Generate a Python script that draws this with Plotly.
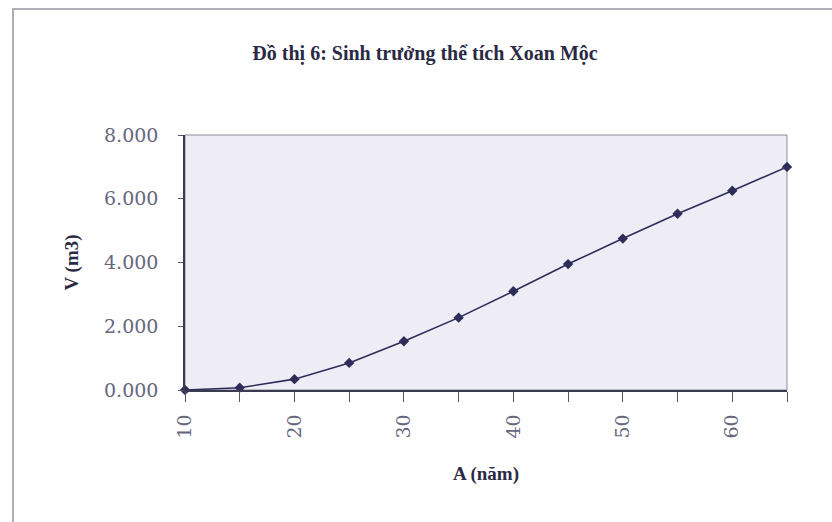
import plotly.graph_objects as go

ages = [10, 15, 20, 25, 30, 35, 40, 45, 50, 55, 60, 65]
volume = [0.00, 0.07, 0.34, 0.85, 1.53, 2.27, 3.10, 3.95, 4.75, 5.53, 6.25, 7.00]
x_tick_vals = [10, 20, 30, 40, 50, 60]
y_tick_vals = [0, 2, 4, 6, 8]

W, H = 832, 522
L, R, T, B = 185, 45, 135, 132
PW, PH = W - L - R, H - T - B

def px(x):
    return (x - L) / PW

def py(y):
    return (H - B - y) / PH

fig = go.Figure()
fig.add_trace(go.Scatter(
    x=ages, y=volume, mode="lines+markers",
    line=dict(color="#2e2d5a", width=1.6),
    marker=dict(symbol="diamond", size=8, color="#2e2d5a"),
    cliponaxis=False, showlegend=False,
))

tick_font = dict(family="DejaVu Serif", size=19, color="#66667e")
title_font = dict(family="Liberation Serif", size=20, color="#2a2a44")
axis_title_font = dict(family="Liberation Serif", size=19, color="#2a2a44")

fig.update_layout(
    width=W, height=H,
    margin=dict(l=L, r=R, t=T, b=B),
    paper_bgcolor="white",
    plot_bgcolor="#eeedf5",
    title=dict(text="<b>Đồ thị 6: Sinh trưởng thể tích Xoan Mộc</b>",
               x=px(425), xref="paper", xanchor="center",
               y=1 - 53 / H, yanchor="middle",
               font=title_font),
    xaxis=dict(
        range=[10, 65], tickvals=x_tick_vals, tickangle=-90,
        ticks="outside", ticklen=10, tickcolor="#555566", ticklabelstandoff=5,
        minor=dict(dtick=5, tick0=10, ticks="outside", ticklen=10, tickcolor="#555566", showgrid=False),
        showgrid=False, zeroline=False,
        showline=True, linecolor="#3a3a50", linewidth=1.5,
        tickfont=tick_font,
        title=dict(text="<b>A (năm)</b>", font=axis_title_font, standoff=29),
    ),
    yaxis=dict(
        range=[0, 8], tickvals=y_tick_vals, tickformat=".3f",
        ticks="outside", ticklen=5, tickcolor="#555566", ticklabelstandoff=16,
        showgrid=False, zeroline=False,
        showline=True, linecolor="#3a3a50", linewidth=1.5,
        tickfont=tick_font,
        title=dict(text="<b>V (m3)</b>", font=axis_title_font, standoff=20),
    ),
    shapes=[
        dict(type="rect", xref="paper", yref="paper", x0=0, x1=1, y0=0, y1=1,
             line=dict(color="#8a8a99", width=1), layer="below"),
        dict(type="rect", xref="paper", yref="paper",
             x0=px(13), x1=px(W + 10), y0=py(H + 10), y1=py(9),
             line=dict(color="#b0b0b8", width=2)),
    ],
)

fig.write_html("out.html")
